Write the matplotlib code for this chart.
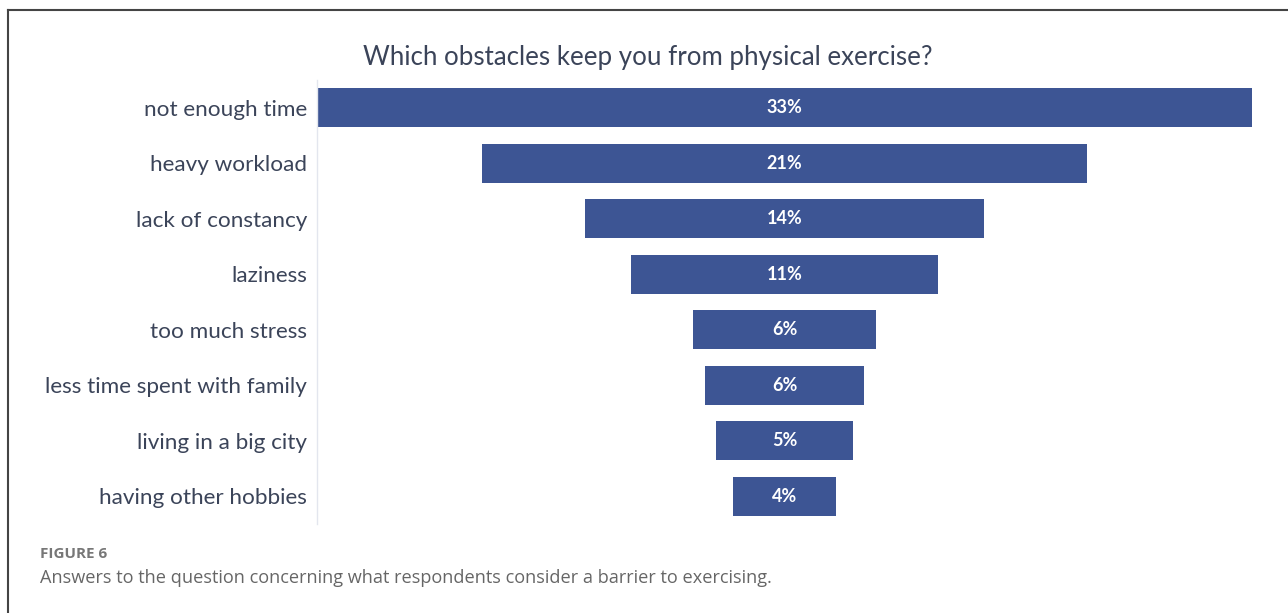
import numpy as np
import matplotlib.pyplot as plt
from matplotlib.lines import Line2D

categories = ["not enough time", "heavy workload", "lack of constancy", "laziness",
              "too much stress", "less time spent with family", "living in a big city",
              "having other hobbies"]
values = [32.8, 21.2, 14.0, 10.8, 6.4, 5.6, 4.8, 3.6]
value_labels = ["33%", "21%", "14%", "11%", "6%", "6%", "5%", "4%"]

title = "Which obstacles keep you from physical exercise?"
fig_label = "FIGURE 6"
caption = "Answers to the question concerning what respondents consider a barrier to exercising."

bar_color = "#3d5594"
text_color = "#3b4459"

W, H = 1288, 613
fig = plt.figure(figsize=(W / 100, H / 100), dpi=100)
ax = fig.add_axes([317 / W, 1 - 524 / H, 935 / W, 444 / H])

y = np.arange(len(categories))
vals = np.array(values)
ax.barh(y, vals, left=-vals / 2, height=0.7, color=bar_color)
for yi, v, lab in zip(y, vals, value_labels):
    ax.text(0, yi, lab, ha="center", va="center", color="white",
            fontsize=13, fontweight="bold", family="Lato")

ax.set_xlim(-vals.max() / 2, vals.max() / 2)
ax.set_ylim(len(categories) - 0.5, -0.5)
ax.set_yticks(y)
ax.set_yticklabels(categories, fontsize=16.2, color=text_color, family="Lato")
ax.tick_params(axis="y", length=0, pad=7)
ax.set_xticks([])
for s in ["top", "right", "bottom"]:
    ax.spines[s].set_visible(False)
ax.spines["left"].set_color("#e3e6ee")
ax.spines["left"].set_linewidth(1)

fig.text(648 / W, 1 - 58 / H, title, ha="center", va="center",
         fontsize=18.6, color=text_color, family="Lato")
fig.text(40 / W, 1 - 554 / H, fig_label, ha="left", va="center",
         fontsize=11, color="#777777", fontweight="bold", family="Open Sans")
fig.text(40 / W, 1 - 578 / H, caption, ha="left", va="center",
         fontsize=13.1, color="#666666", family="Open Sans")

# frame around the figure
fig.add_artist(Line2D([8 / W, 1], [1 - 10 / H, 1 - 10 / H], color="#444444", lw=1.5))
fig.add_artist(Line2D([8 / W, 8 / W], [0, 1 - 10 / H], color="#444444", lw=1.5))

fig.savefig("out.png", dpi=100)
